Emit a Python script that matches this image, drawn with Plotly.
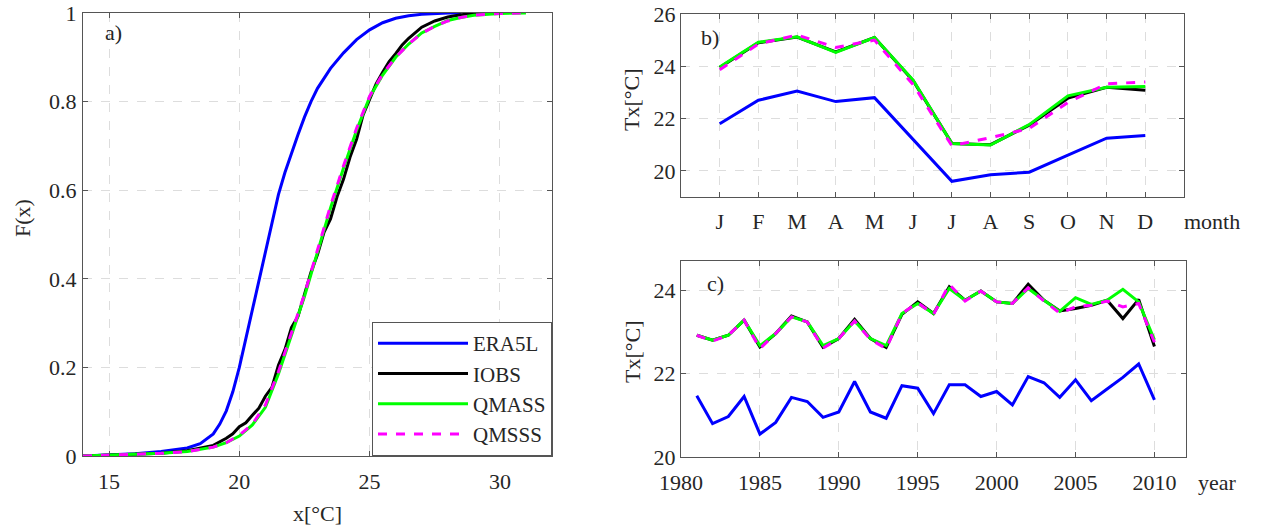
import plotly.graph_objects as go

# ---------------- data ----------------
# Panel a: empirical CDFs (x in degC, F(x))
era_x = [14.0, 15.0, 16.0, 17.0, 18.0, 18.5, 19.0, 19.25, 19.5, 19.75, 20.0, 20.25, 20.5, 20.75,
         21.0, 21.25, 21.5, 21.75, 22.0, 22.25, 22.5, 22.75, 23.0, 23.5, 24.0, 24.5, 25.0,
         25.5, 26.0, 26.5, 27.0, 27.5, 28.0, 28.5]
era_F = [0.0, 0.002, 0.005, 0.01, 0.018, 0.028, 0.05, 0.072, 0.102, 0.145, 0.2, 0.265, 0.33, 0.4,
         0.465, 0.53, 0.59, 0.64, 0.685, 0.725, 0.765, 0.8, 0.83, 0.875, 0.91, 0.94, 0.962,
         0.978, 0.988, 0.994, 0.997, 0.999, 1.0, 1.0]

iobs_x = [14.0, 16.0, 17.0, 18.0, 19.0, 19.5, 19.75, 20.0, 20.25, 20.5, 20.75, 21.0, 21.25, 21.5, 21.75,
          22.0, 22.25, 22.5, 22.75, 23.0, 23.25, 23.5, 23.75, 24.0, 24.25, 24.5, 24.75, 25.0,
          25.25, 25.5, 25.75, 26.0, 26.25, 26.5, 26.75, 27.0, 27.5, 28.0, 28.5, 29.0, 29.3]
iobs_F = [0.0, 0.003, 0.006, 0.012, 0.024, 0.04, 0.05, 0.066, 0.075, 0.092, 0.108, 0.135, 0.155, 0.205, 0.24,
          0.29, 0.315, 0.365, 0.415, 0.455, 0.505, 0.535, 0.585, 0.625, 0.675, 0.715, 0.77, 0.805,
          0.84, 0.866, 0.89, 0.908, 0.928, 0.943, 0.956, 0.968, 0.982, 0.991, 0.996, 0.999, 1.0]

qmass_x = [14.0, 16.0, 17.0, 18.0, 19.0, 19.5, 20.0, 20.5, 21.0, 21.5, 22.0, 22.5, 23.0, 23.5,
           24.0, 24.5, 25.0, 25.5, 26.0, 26.5, 27.0, 27.5, 28.0, 28.5, 29.0, 30.0, 31.0]
qmass_F = [0.0, 0.003, 0.006, 0.01, 0.02, 0.03, 0.045, 0.07, 0.11, 0.185, 0.27, 0.36, 0.46, 0.56,
           0.65, 0.735, 0.81, 0.86, 0.9, 0.93, 0.955, 0.97, 0.983, 0.99, 0.995, 0.999, 1.0]

qmsss_x = [14.0, 16.0, 17.0, 18.0, 19.0, 19.5, 20.0, 20.5, 21.0, 21.5, 22.0, 22.5, 23.0, 23.5,
           24.0, 24.5, 25.0, 25.5, 26.0, 26.5, 27.0, 27.5, 28.0, 28.5, 29.0, 30.0, 30.8]
qmsss_F = [0.0, 0.003, 0.006, 0.01, 0.02, 0.03, 0.047, 0.072, 0.115, 0.19, 0.275, 0.365, 0.465, 0.565,
           0.655, 0.74, 0.812, 0.862, 0.9, 0.93, 0.954, 0.97, 0.982, 0.99, 0.995, 0.999, 1.0]

# Panel b: monthly means
months = [1, 2, 3, 4, 5, 6, 7, 8, 9, 10, 11, 12]
month_labels = ["J", "F", "M", "A", "M", "J", "J", "A", "S", "O", "N", "D"]
era_mon = [21.8, 22.7, 23.05, 22.65, 22.8, 21.2, 19.6, 19.85, 19.95, 20.6, 21.25, 21.35]
iobs_mon = [23.95, 24.9, 25.12, 24.55, 25.1, 23.45, 21.05, 21.0, 21.75, 22.78, 23.2, 23.08]
qmass_mon = [23.97, 24.92, 25.13, 24.53, 25.1, 23.47, 21.05, 20.99, 21.77, 22.87, 23.2, 23.23]
qmsss_mon = [23.87, 24.85, 25.2, 24.72, 25.0, 23.3, 20.96, 21.27, 21.62, 22.62, 23.33, 23.4]

# Panel c: yearly means
years = list(range(1981, 2011))
era_yr = [21.47, 20.80, 20.97, 21.45, 20.55, 20.83, 21.43, 21.33, 20.95, 21.08,
          21.81, 21.08, 20.93, 21.71, 21.65, 21.04, 21.73, 21.73, 21.45, 21.57,
          21.25, 21.93, 21.78, 21.43, 21.85, 21.35, 21.63, 21.91, 22.23, 21.37]
iobs_yr = [22.92, 22.80, 22.92, 23.28, 22.64, 22.96, 23.38, 23.24, 22.63, 22.84,
           23.30, 22.84, 22.63, 23.42, 23.72, 23.44, 24.08, 23.76, 23.98, 23.72,
           23.68, 24.14, 23.76, 23.50, 23.56, 23.64, 23.76, 23.32, 23.78, 22.65]
qmass_yr = [22.92, 22.80, 22.92, 23.28, 22.67, 22.96, 23.36, 23.24, 22.67, 22.84,
            23.26, 22.84, 22.67, 23.44, 23.68, 23.44, 24.04, 23.76, 23.98, 23.72,
            23.68, 24.04, 23.76, 23.49, 23.82, 23.66, 23.76, 24.02, 23.72, 22.81]
qmsss_yr = [22.92, 22.78, 22.92, 23.28, 22.60, 22.96, 23.36, 23.24, 22.61, 22.84,
            23.26, 22.82, 22.60, 23.44, 23.70, 23.42, 24.14, 23.74, 23.98, 23.72,
            23.68, 24.06, 23.74, 23.45, 23.60, 23.64, 23.74, 23.60, 23.68, 22.75]

series_names = ["ERA5L", "IOBS", "QMASS", "QMSSS"]
colors = ["#0000ff", "#000000", "#00ff00", "#ff00ff"]
dashes = ["solid", "solid", "solid", "dash"]

# ---------------- figure ----------------
W, H = 1263, 530
FONT = "Liberation Serif"
TXT = "#262626"
FS = 22
fig = go.Figure()

cdf_x = [era_x, iobs_x, qmass_x, qmsss_x]
cdf_F = [era_F, iobs_F, qmass_F, qmsss_F]
mon = [era_mon, iobs_mon, qmass_mon, qmsss_mon]
yr = [era_yr, iobs_yr, qmass_yr, qmsss_yr]

for i in range(4):
    fig.add_trace(go.Scatter(x=cdf_x[i], y=cdf_F[i], mode="lines", name=series_names[i],
                             line=dict(color=colors[i], width=3, dash=dashes[i]),
                             xaxis="x", yaxis="y", legendgroup=series_names[i]))
for i in range(4):
    fig.add_trace(go.Scatter(x=months, y=mon[i], mode="lines", showlegend=False,
                             line=dict(color=colors[i], width=3, dash=dashes[i]),
                             xaxis="x2", yaxis="y2"))
for i in range(4):
    fig.add_trace(go.Scatter(x=years, y=yr[i], mode="lines", showlegend=False,
                             line=dict(color=colors[i], width=3, dash=dashes[i]),
                             xaxis="x3", yaxis="y3"))

def px_x(p):
    return p / W

def px_y(p):
    return 1 - p / H

axis_common = dict(showline=True, linecolor="#555555", linewidth=1, mirror="ticks",
                   ticks="inside", ticklen=5, tickcolor="#555555", showgrid=True,
                   gridcolor="#dddddd", griddash="dash", gridwidth=1, zeroline=False,
                   automargin=False, ticklabeloverflow="allow",
                   tickfont=dict(family=FONT, size=FS, color=TXT))

fig.update_layout(
    width=W, height=H, margin=dict(l=0, r=0, t=0, b=0, autoexpand=False),
    paper_bgcolor="white", plot_bgcolor="white",
    font=dict(family=FONT, size=FS, color=TXT),
    xaxis=dict(domain=[px_x(83), px_x(552)], range=[14, 32], tickvals=[15, 20, 25, 30],
               anchor="y", ticklabelstandoff=6, **axis_common),
    yaxis=dict(domain=[px_y(456), px_y(13)], range=[0, 1], tickvals=[0, 0.2, 0.4, 0.6, 0.8, 1],
               ticktext=["0", "0.2", "0.4", "0.6", "0.8", "1"], anchor="x",
               ticklabelstandoff=1, **axis_common),
    xaxis2=dict(domain=[px_x(681), px_x(1184)], range=[0, 13], tickvals=months,
                ticktext=month_labels, anchor="y2", ticklabelstandoff=5, **axis_common),
    yaxis2=dict(domain=[px_y(197), px_y(14)], range=[19, 26], tickvals=[20, 22, 24, 26],
                anchor="x2", **axis_common),
    xaxis3=dict(domain=[px_x(681), px_x(1186)], range=[1980, 2012],
                tickvals=[1980, 1985, 1990, 1995, 2000, 2005, 2010],
                anchor="y3", ticklabelstandoff=6, **axis_common),
    yaxis3=dict(domain=[px_y(457), px_y(261)], range=[20, 24.7], tickvals=[20, 22, 24],
                anchor="x3", **axis_common),
    legend=dict(x=px_x(552), xanchor="right", y=px_y(456), yanchor="bottom",
                bgcolor="white", bordercolor="#555555", borderwidth=1,
                font=dict(family=FONT, size=21, color=TXT),
                itemwidth=90, tracegroupgap=0, traceorder="grouped"),
    showlegend=True,
)

ann = dict(showarrow=False, xref="paper", yref="paper", xanchor="center", yanchor="middle",
           font=dict(family=FONT, size=FS, color=TXT))
fig.add_annotation(text="a)", x=px_x(113), y=px_y(33), **ann)
fig.add_annotation(text="b)", x=px_x(710), y=px_y(38), **ann)
fig.add_annotation(text="c)", x=px_x(715), y=px_y(283), **ann)
fig.add_annotation(text="F(x)", x=px_x(22), y=px_y(218), textangle=-90, **ann)
fig.add_annotation(text="x[°C]", x=px_x(317), y=px_y(513), **ann)
fig.add_annotation(text="Tx[°C]", x=px_x(632), y=px_y(100), textangle=-90, **ann)
fig.add_annotation(text="Tx[°C]", x=px_x(632), y=px_y(352), textangle=-90, **ann)
fig.add_annotation(text="month", x=px_x(1212), y=px_y(221), **ann)
fig.add_annotation(text="year", x=px_x(1217), y=px_y(482), **ann)

# remove the default 8px page margin so the figure fills the window exactly
fig.write_html("out.html", config={"displayModeBar": False},
               post_script="document.body.style.margin='0';")
